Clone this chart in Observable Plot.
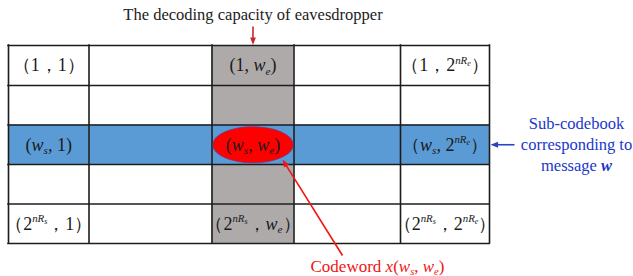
<!DOCTYPE html>
<html><head><meta charset="utf-8">
<script src="https://cdn.jsdelivr.net/npm/d3@7"></script>
<script src="https://cdn.jsdelivr.net/npm/@observablehq/plot@0.6"></script>
<style>body{margin:0;background:#fff;} #chart{width:633px;height:276px;}</style>
</head><body><div id="chart"></div>
<script>
// ---- data ----
const rowCount = 5;
const colCount = 5;
const highlightRow = 2;   // sub-codebook row (w_s)
const highlightCol = 2;   // eavesdropper column (w_e)
const labelRows = [0, 0, 0, 2, 2, 2, 4, 4, 4];
const labelCols = [0, 2, 4, 0, 2, 4, 0, 2, 4];
const labelTexts = [
  "$（1，1）$", "$(1, w_e)$", "$（1，2^nR_e）$",
  "$(w_s, 1)$", "$(w_s, w_e)$", "$（w_s, 2^nR_e）$",
  "$（2^nR_s，1）$", "$（2^nR_s，w_e）$", "$（2^nR_s，2^nR_e）$"
];
const titleText = "The decoding capacity of eavesdropper";
const sideLines = ["Sub-codebook", "corresponding to", "message $*w$"];
const codewordText = "Codeword $x(w_s, w_e)$";

// ---- layout (pixels) ----
const SERIF = "'Liberation Serif', 'Times New Roman', Times, 'DejaVu Serif', serif";
const colEdges = [8, 88.5, 211.5, 293.5, 400, 489];
const rowEdges = [45, 85, 124.5, 164, 203.5, 243];
const W = 633, H = 276;
const colMid = c => (colEdges[c] + colEdges[c + 1]) / 2;
const rowMid = r => (rowEdges[r] + rowEdges[r + 1]) / 2;

const cells = [];
for (let r = 0; r < rowCount; r++) for (let c = 0; c < colCount; c++)
  cells.push({r, c, x1: colEdges[c], x2: colEdges[c + 1], y1: rowEdges[r], y2: rowEdges[r + 1]});

const labels = labelTexts.map((t, i) => ({text: t, x: colMid(labelCols[i]), y: rowMid(labelRows[i])}));

const ex = colMid(highlightCol), ey = rowMid(highlightRow);
const ellipseSym = {
  draw(ctx, size) {
    const r = Math.sqrt(size / Math.PI), rx = r, ry = r * 0.45, k = 0.5522847;
    ctx.moveTo(rx, 0);
    ctx.bezierCurveTo(rx, ry * k, rx * k, ry, 0, ry);
    ctx.bezierCurveTo(-rx * k, ry, -rx, ry * k, -rx, 0);
    ctx.bezierCurveTo(-rx, -ry * k, -rx * k, -ry, 0, -ry);
    ctx.bezierCurveTo(rx * k, -ry, rx, -ry * k, rx, 0);
    ctx.closePath();
  }
};
const headSym = {
  draw(ctx, size) {
    const r = Math.sqrt(size / Math.PI);
    ctx.moveTo(0, 0); ctx.lineTo(-0.8 * r, 2.1 * r); ctx.lineTo(0.8 * r, 2.1 * r); ctx.closePath();
  }
};
const arrows = [
  {x1: ex, y1: 26, x2: ex, y2: rowEdges[0] - 0.5, color: "#c8282d"},
  {x1: 514, y1: ey, x2: colEdges[5] + 1, y2: ey, color: "#2a44c4"},
  {x1: 342, y1: 255, x2: 282, y2: 159, color: "#f21414"}
].map(a => {
  const dx = a.x2 - a.x1, dy = a.y2 - a.y1, len = Math.hypot(dx, dy);
  return {...a, rot: Math.atan2(dx, -dy) * 180 / Math.PI,
    lx2: a.x2 - dx / len * 6, ly2: a.y2 - dy / len * 6};
});

const plot = Plot.plot({
  width: W, height: H,
  margin: 0,
  style: {fontFamily: SERIF},
  x: {domain: [0, W], range: [0, W], axis: null},
  y: {domain: [0, H], range: [0, H], axis: null},
  marks: [
    Plot.rect(cells, {x1: "x1", x2: "x2", y1: "y1", y2: "y2", fill: "#ffffff"}),
    Plot.rect(cells.filter(d => d.c === highlightCol), {x1: "x1", x2: "x2", y1: "y1", y2: "y2", fill: "#aeaaaa"}),
    Plot.rect(cells.filter(d => d.r === highlightRow), {x1: "x1", x2: "x2", y1: "y1", y2: "y2", fill: "#5b9bd5"}),
    Plot.ruleX(colEdges, {y1: rowEdges[0], y2: rowEdges[rowCount], stroke: "#1c1c1c", strokeWidth: 1.6, strokeLinecap: "square"}),
    Plot.ruleY(rowEdges, {x1: colEdges[0], x2: colEdges[colCount], stroke: "#1c1c1c", strokeWidth: 1.6, strokeLinecap: "square"}),
    Plot.dot([{x: ex, y: ey}], {x: "x", y: "y", r: 40, symbol: ellipseSym, fill: "#ff0000", stroke: "#8a2a6a", strokeWidth: 1.2, strokeOpacity: 0.7}),
    Plot.text(labels, {x: "x", y: "y", text: "text", fontSize: 18, fontFamily: SERIF, fill: "#1a1a1a"}),
    Plot.text([titleText], {x: ex, y: 14, text: d => d, fontSize: 16.5, fontFamily: SERIF, fill: "#222222"}),
    Plot.text(sideLines, {x: 576, y: (d, i) => ey - 21 + i * 21, text: d => d, fontSize: 16.5, fontFamily: SERIF, fill: "#2038c8"}),
    Plot.text([codewordText], {x: 377, y: 266, text: d => d, fontSize: 17, fontFamily: SERIF, fill: "#f21414"}),
    Plot.link(arrows, {x1: "x1", y1: "y1", x2: "lx2", y2: "ly2", stroke: "color", strokeWidth: 1.6}),
    Plot.dot(arrows, {x: "x2", y: "y2", r: 3.6, symbol: headSym, rotate: "rot", fill: "color", stroke: "none"})
  ]
});

// rich text: $...$ = math (italic letters, _ subscript, ^ superscript, * bold)
function parseRich(s) {
  const segs = [];
  let math = false, level = 0, subNext = false, boldNext = false;
  for (const ch of s) {
    if (ch === "$") { math = !math; level = 0; continue; }
    if (!math) { segs.push({t: ch, level: 0, italic: false, bold: false}); continue; }
    if (ch === "^") { level = 2; continue; }
    if (ch === "_") { subNext = true; continue; }
    if (ch === "*") { boldNext = true; continue; }
    if (level === 2 && "，,）) ".includes(ch)) level = 0;
    let lv = level;
    if (subNext) { lv = level === 2 ? 3 : 1; subNext = false; }
    segs.push({t: ch, level: lv, italic: /[A-Za-z]/.test(ch), bold: boldNext});
    boldNext = false;
  }
  const groups = [];
  for (const s of segs) {
    const g = groups[groups.length - 1];
    if (g && g.level === s.level && g.italic === s.italic && g.bold === s.bold) g.t += s.t;
    else groups.push({...s});
  }
  return groups;
}
d3.select(plot).selectAll("text").each(function () {
  const s = this.textContent;
  if (!s.includes("$")) return;
  const F = parseFloat(this.parentNode.getAttribute("font-size")) || 18;
  const size = [1, 0.62, 0.6, 0.45];
  const shift = [0, 0.18, -0.42, -0.3];
  this.textContent = "";
  let cur = 0;
  for (const g of parseRich(s)) {
    const ts = document.createElementNS("http://www.w3.org/2000/svg", "tspan");
    ts.textContent = g.t;
    ts.setAttribute("font-size", (F * size[g.level]).toFixed(2));
    const target = shift[g.level] * F;
    if (target !== cur) ts.setAttribute("dy", (target - cur).toFixed(2));
    cur = target;
    if (g.italic) ts.setAttribute("font-style", "italic");
    if (g.bold) ts.setAttribute("font-weight", "bold");
    this.appendChild(ts);
  }
});
document.getElementById("chart").appendChild(plot);
</script>
</body></html>
